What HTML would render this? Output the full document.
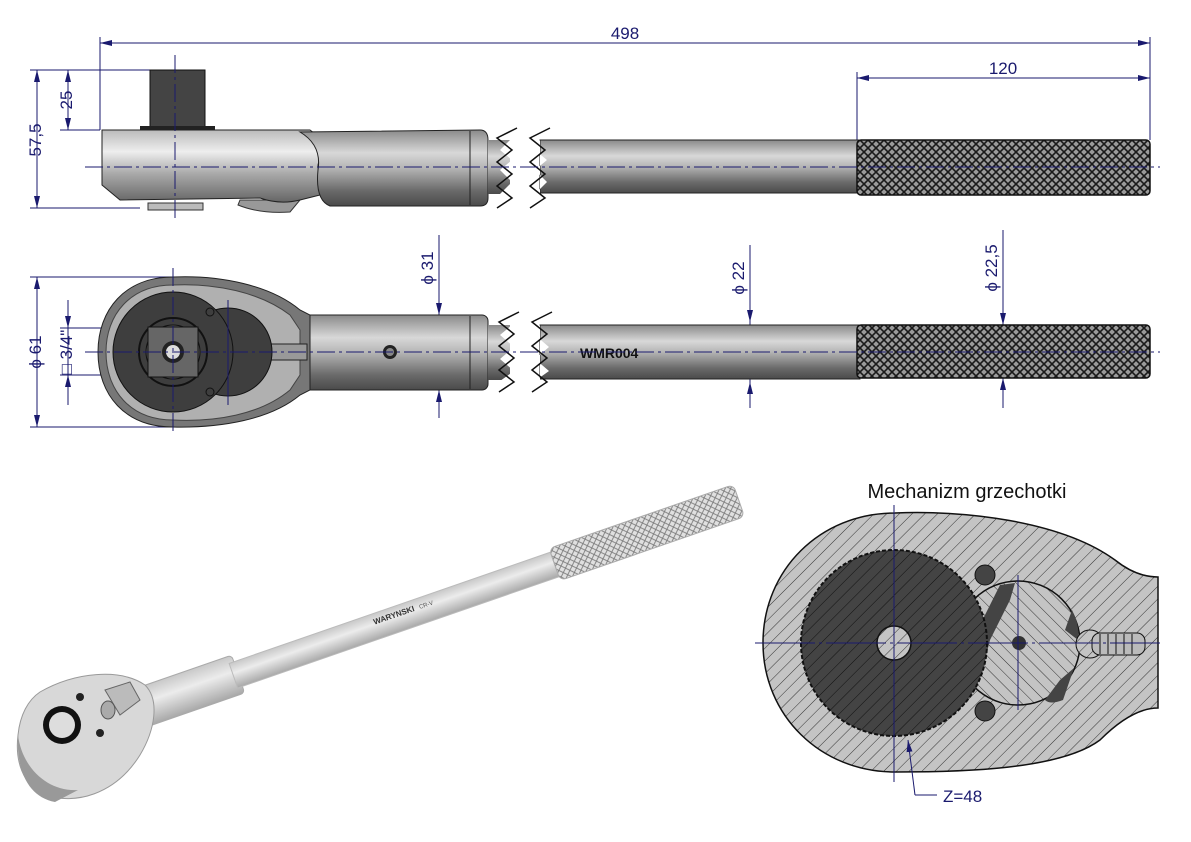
<!DOCTYPE html>
<html><head><meta charset="utf-8"><style>
html,body{margin:0;padding:0;background:#fff}
svg{display:block}
text{font-family:"Liberation Sans",sans-serif}
</style></head><body>
<svg width="1191" height="842" viewBox="0 0 1191 842" xmlns="http://www.w3.org/2000/svg">
<defs>
<linearGradient id="tube" x1="0" y1="0" x2="0" y2="1">
<stop offset="0" stop-color="#8a8a8a"/><stop offset="0.3" stop-color="#d8d8d8"/><stop offset="0.5" stop-color="#b5b5b5"/><stop offset="0.8" stop-color="#6a6a6a"/><stop offset="1" stop-color="#4a4a4a"/>
</linearGradient>
<linearGradient id="head" x1="0" y1="0" x2="0" y2="1">
<stop offset="0" stop-color="#bbb"/><stop offset="0.3" stop-color="#eee"/><stop offset="0.6" stop-color="#aaa"/><stop offset="1" stop-color="#666"/>
</linearGradient>
<linearGradient id="iso" x1="0" y1="0" x2="0" y2="1">
<stop offset="0" stop-color="#c8c8c8"/><stop offset="0.4" stop-color="#ececec"/><stop offset="1" stop-color="#a8a8a8"/>
</linearGradient>
<pattern id="knurl" width="8" height="8" patternUnits="userSpaceOnUse">
<rect width="8" height="8" fill="#9a9a9a"/>
<path d="M0 0L8 8M8 0L0 8" stroke="#1a1a1a" stroke-width="1.6"/>
</pattern>
<pattern id="knurl2" width="7" height="7" patternUnits="userSpaceOnUse">
<rect width="7" height="7" fill="#e0e0e0"/>
<path d="M0 0L7 7M7 0L0 7" stroke="#777" stroke-width="0.8"/>
</pattern>
<pattern id="hatch" width="9" height="9" patternUnits="userSpaceOnUse" patternTransform="rotate(45)">
<rect width="9" height="9" fill="#c4c4c4"/><line x1="0" y1="0" x2="0" y2="9" stroke="#333" stroke-width="1"/>
</pattern>
<pattern id="hatchD" width="9" height="9" patternUnits="userSpaceOnUse" patternTransform="rotate(45)">
<rect width="9" height="9" fill="#444"/><line x1="0" y1="0" x2="0" y2="9" stroke="#111" stroke-width="1"/>
</pattern>
<pattern id="hatchL" width="9" height="9" patternUnits="userSpaceOnUse" patternTransform="rotate(-45)">
<rect width="9" height="9" fill="#c4c4c4"/><line x1="0" y1="0" x2="0" y2="9" stroke="#333" stroke-width="1"/>
</pattern>
<marker id="ar" markerWidth="12" markerHeight="6" refX="12" refY="3" orient="auto-start-reverse" markerUnits="userSpaceOnUse">
<path d="M0 0L12 3L0 6z" fill="#1a1a6e"/></marker>
</defs>

<g stroke="#1a1a6e" stroke-width="1" fill="none">
<line x1="100" y1="37" x2="100" y2="130"/><line x1="1150" y1="37" x2="1150" y2="140"/>
<line x1="100" y1="43" x2="1150" y2="43" marker-start="url(#ar)" marker-end="url(#ar)"/>
<line x1="857" y1="72" x2="857" y2="140"/>
<line x1="857" y1="78" x2="1150" y2="78" marker-start="url(#ar)" marker-end="url(#ar)"/>
<line x1="30" y1="70" x2="150" y2="70"/><line x1="30" y1="208" x2="140" y2="208"/>
<line x1="37" y1="70" x2="37" y2="208" marker-start="url(#ar)" marker-end="url(#ar)"/>
<line x1="60" y1="130" x2="100" y2="130"/>
<line x1="68" y1="70" x2="68" y2="130" marker-start="url(#ar)" marker-end="url(#ar)"/>
</g>
<g fill="#1a1a6e" font-size="17">
<text x="625" y="39" text-anchor="middle">498</text>
<text x="1003" y="74" text-anchor="middle">120</text>
<text transform="translate(41,140) rotate(-90)" text-anchor="middle">57,5</text>
<text transform="translate(72,100) rotate(-90)" text-anchor="middle">25</text>
</g>

<!-- TOP VIEW -->
<rect x="150" y="70" width="55" height="60" fill="#444" stroke="#111"/>
<rect x="140" y="126" width="75" height="6" fill="#222"/>
<rect x="148" y="203" width="55" height="7" fill="#bbb" stroke="#333"/>
<path d="M238 205 Q260 214 290 212 L300 200 L240 200z" fill="#999" stroke="#333"/>
<path d="M102 130 L310 130 Q325 140 318 165 L320 195 L300 200 Q280 205 260 198 L120 200 L102 185z" fill="url(#head)" stroke="#222"/>
<path d="M300 132 L480 130 Q488 130 488 140 L488 198 Q488 206 480 206 L330 206 Q315 200 318 170 Q322 145 300 132z" fill="url(#tube)" stroke="#222"/>
<line x1="470" y1="131" x2="470" y2="205" stroke="#222"/>
<rect x="488" y="140" width="22" height="54" fill="url(#tube)"/>
<rect x="540" y="140" width="320" height="53" fill="url(#tube)" stroke="#222"/>
<path d="M510 140 L500 150 L512 160 L500 170 L512 182 L500 194 L510 194z" fill="#fff"/>
<path d="M540 140 L535 150 L547 160 L535 170 L547 182 L535 194 L540 194z" fill="#fff"/>
<path d="M517 128 L497 138 L512 150 L497 162 L512 174 L497 186 L512 198 L497 208" fill="none" stroke="#111" stroke-width="1.5"/>
<path d="M550 128 L530 138 L545 150 L530 162 L545 174 L530 186 L545 198 L530 208" fill="none" stroke="#111" stroke-width="1.5"/>
<rect x="857" y="140" width="293" height="55" rx="4" fill="url(#knurl)" stroke="#111" stroke-width="1.5"/>
<line x1="85" y1="167" x2="1160" y2="167" stroke="#1a1a6e" stroke-dasharray="18 4 3 4"/>
<line x1="175" y1="55" x2="175" y2="222" stroke="#1a1a6e" stroke-dasharray="18 4 3 4"/>

<!-- FRONT VIEW -->
<g stroke="#1a1a6e" stroke-width="1" fill="none">
<line x1="30" y1="277" x2="175" y2="277"/><line x1="30" y1="427" x2="175" y2="427"/>
<line x1="37" y1="277" x2="37" y2="427" marker-start="url(#ar)" marker-end="url(#ar)"/>
<line x1="60" y1="328" x2="175" y2="328"/><line x1="60" y1="375" x2="175" y2="375"/>
<line x1="68" y1="300" x2="68" y2="328" marker-end="url(#ar)"/>
<line x1="68" y1="405" x2="68" y2="375" marker-end="url(#ar)"/>
<line x1="68" y1="328" x2="68" y2="375"/>
<line x1="439" y1="235" x2="439" y2="418"/>
<line x1="439" y1="290" x2="439" y2="315" marker-end="url(#ar)"/><line x1="439" y1="410" x2="439" y2="390" marker-end="url(#ar)"/>
<line x1="750" y1="245" x2="750" y2="408"/>
<line x1="750" y1="300" x2="750" y2="322" marker-end="url(#ar)"/><line x1="750" y1="402" x2="750" y2="382" marker-end="url(#ar)"/>
<line x1="1003" y1="230" x2="1003" y2="408"/>
<line x1="1003" y1="300" x2="1003" y2="325" marker-end="url(#ar)"/><line x1="1003" y1="402" x2="1003" y2="378" marker-end="url(#ar)"/>
</g>
<g fill="#1a1a6e" font-size="17">
<text transform="translate(41,352) rotate(-90)" text-anchor="middle">ϕ 61</text>
<text transform="translate(72,352) rotate(-90)" text-anchor="middle">□ 3/4"</text>
<text transform="translate(433,268) rotate(-90)" text-anchor="middle">ϕ 31</text>
<text transform="translate(744,278) rotate(-90)" text-anchor="middle">ϕ 22</text>
<text transform="translate(997,268) rotate(-90)" text-anchor="middle">ϕ 22,5</text>
</g>
<rect x="300" y="315" width="188" height="75" rx="6" fill="url(#tube)" stroke="#222"/>
<line x1="470" y1="316" x2="470" y2="389" stroke="#222"/>
<path d="M173 277 C220 275 270 285 300 310 L310 315 L310 390 L300 395 C270 420 220 428 173 427 C125 427 98 395 98 352 C98 310 125 277 173 277z" fill="#777" stroke="#222"/>
<path d="M173 285 C215 283 260 292 290 315 L300 330 L300 375 L290 390 C260 415 215 422 173 420 C130 420 106 390 106 352 C106 315 130 285 173 285z" fill="#b0b0b0" stroke="#444"/>
<path d="M265 344 L307 344 L307 360 L265 360z" fill="#999" stroke="#222"/>
<circle cx="228" cy="352" r="44" fill="#3e3e3e" stroke="#111"/>
<circle cx="173" cy="352" r="60" fill="#3e3e3e" stroke="#111"/>
<circle cx="173" cy="352" r="34" fill="none" stroke="#111" stroke-width="2"/>
<circle cx="173" cy="352" r="27" fill="#555" stroke="#111"/>
<rect x="148" y="327" width="50" height="50" fill="#666" stroke="#111"/>
<circle cx="173" cy="352" r="11" fill="#222"/><circle cx="173" cy="352" r="7" fill="#ddd"/>
<circle cx="210" cy="312" r="4" fill="none" stroke="#111"/><circle cx="210" cy="392" r="4" fill="none" stroke="#111"/>
<circle cx="390" cy="352" r="7" fill="#222"/><circle cx="390" cy="352" r="4" fill="#888"/>
<rect x="488" y="325" width="22" height="55" fill="url(#tube)"/>
<rect x="540" y="325" width="320" height="54" fill="url(#tube)" stroke="#222"/>
<path d="M512 325 L500 335 L514 347 L500 359 L514 371 L500 381 L512 381z" fill="#fff"/>
<path d="M540 325 L535 335 L549 347 L535 359 L549 371 L535 381 L540 381z" fill="#fff"/>
<path d="M519 312 L499 322 L514 334 L499 346 L514 358 L499 370 L514 382 L499 392" fill="none" stroke="#111" stroke-width="1.5"/>
<path d="M552 312 L532 322 L547 334 L532 346 L547 358 L532 370 L547 382 L532 392" fill="none" stroke="#111" stroke-width="1.5"/>
<text x="580" y="358" font-size="14" font-weight="bold" fill="#111">WMR004</text>
<rect x="857" y="325" width="293" height="53" rx="4" fill="url(#knurl)" stroke="#111" stroke-width="1.5"/>
<line x1="85" y1="352" x2="1160" y2="352" stroke="#1a1a6e" stroke-dasharray="18 4 3 4"/>
<line x1="173" y1="268" x2="173" y2="435" stroke="#1a1a6e" stroke-dasharray="18 4 3 4"/>
<line x1="228" y1="300" x2="228" y2="405" stroke="#1a1a6e"/>

<!-- ISO VIEW -->
<g transform="translate(120,715) rotate(-19.1)">
<rect x="0" y="-20" width="125" height="40" rx="4" fill="url(#iso)" stroke="#aaa"/>
<rect x="120" y="-13" width="340" height="26" fill="url(#iso)" stroke="#bbb"/>
<rect x="460" y="-17" width="195" height="34" rx="6" fill="url(#knurl2)" stroke="#aaa"/>
<text x="270" y="-2" font-size="8" font-weight="bold" fill="#333">WARYNSKI</text>
<text x="318" y="-2" font-size="6" fill="#555">CR-V</text>
</g>
<path d="M40 692 C75 672 120 668 145 685 C160 700 155 730 140 755 C115 795 75 805 45 795 C22 785 15 760 18 735 C20 715 28 700 40 692z" fill="#d8d8d8" stroke="#999"/>
<path d="M18 735 C22 768 48 792 78 790 L55 802 C28 797 16 770 18 735z" fill="#999"/>
<circle cx="62" cy="725" r="19" fill="#111"/><circle cx="62" cy="725" r="13" fill="#ddd"/>
<circle cx="80" cy="697" r="4" fill="#222"/><circle cx="100" cy="733" r="4" fill="#222"/>
<path d="M105 690 L130 682 L140 700 L120 715z" fill="#bbb" stroke="#666"/>
<ellipse cx="108" cy="710" rx="7" ry="9" fill="#aaa" stroke="#555"/>

<!-- MECHANISM -->
<text x="967" y="498" font-size="20" text-anchor="middle" fill="#111">Mechanizm grzechotki</text>
<path d="M895 513 C960 510 1060 520 1115 560 C1130 572 1145 577 1158 577 L1158 708 C1140 708 1120 720 1100 740 C1060 770 960 772 895 772 C820 772 763 715 763 643 C763 570 820 513 895 513z" fill="url(#hatch)" stroke="#111" stroke-width="1.5"/>
<circle cx="1018" cy="643" r="62" fill="url(#hatchL)" stroke="#111" stroke-width="1.5"/>
<path d="M1000 585 L1015 583 L1010 600 L1000 620 L990 640 L985 660 L975 662 L980 625z" fill="#444"/>
<path d="M1072 610 Q1080 625 1078 640 L1065 630z M1063 700 Q1050 705 1045 700 L1060 680 L1074 668z" fill="#444"/>
<circle cx="894" cy="643" r="93" fill="url(#hatchD)" stroke="#111" stroke-width="2" stroke-dasharray="4 2"/>
<circle cx="894" cy="643" r="17" fill="url(#hatch)" stroke="#111" stroke-width="1.5"/>
<circle cx="985" cy="575" r="10" fill="#444" stroke="#111"/>
<circle cx="985" cy="711" r="10" fill="#444" stroke="#111"/>
<circle cx="1019" cy="643" r="7" fill="#333"/>
<circle cx="1090" cy="644" r="14" fill="url(#hatch)" stroke="#111"/>
<rect x="1092" y="633" width="53" height="22" rx="8" fill="#bbb" stroke="#111"/>
<path d="M1100 634 v20 M1108 634 v20 M1116 634 v20 M1124 634 v20 M1132 634 v20" stroke="#111"/>
<g stroke="#1a1a6e" fill="none">
<line x1="755" y1="643" x2="1160" y2="643" stroke-dasharray="60 4 3 4"/>
<line x1="894" y1="505" x2="894" y2="782"/>
<line x1="1018" y1="575" x2="1018" y2="710"/>
<path d="M915 795 L908 740" marker-end="url(#ar)"/>
<line x1="915" y1="795" x2="937" y2="795"/>
</g>
<text x="943" y="802" font-size="17" fill="#1a1a6e">Z=48</text>
</svg>
</body></html>
